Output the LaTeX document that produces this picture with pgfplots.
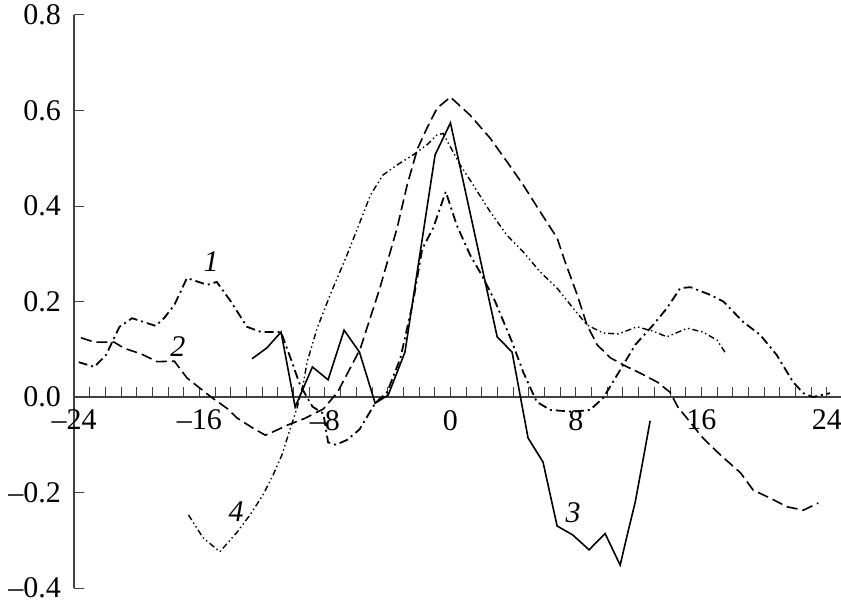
\documentclass[border=0pt]{standalone}
\usepackage{fontspec}
\setmainfont{Liberation Serif}
\usepackage{pgfplots}
\pgfplotsset{compat=1.18}
\begin{document}
\begin{tikzpicture}
\begin{axis}[
  at={(0,0)}, anchor=south west,
  scale only axis, width=383.5pt, height=286.5pt,
  xmin=-24, xmax=24.9, ymin=-0.4, ymax=0.8,
  axis x line=middle, axis y line=left,
  axis line style={-, black!75, line width=0.6pt},
  hide obscured x ticks=false, hide obscured y ticks=false,
  xtick={-24,-16,-8,0,8,16,24},
  xticklabels={\textendash24,\textendash16,\textendash8,0,8,16,24},
  minor x tick num=7,
  ytick={-0.4,-0.2,0,0.2,0.4,0.6,0.8},
  yticklabels={\textendash0.4,\textendash0.2,0.0,0.2,0.4,0.6,0.8},
  tick align=inside,
  major tick length=5pt, minor tick length=5pt,
  tick style={black!75, line width=0.5pt},
  every tick label/.append style={font=\fontsize{15}{17}\selectfont},
  xticklabel style={anchor=north, yshift=-3pt},
  yticklabel style={anchor=east, xshift=-3pt},
  clip=false,
]
\coordinate (SW) at (axis cs:-24,-0.4);
\coordinate (NE) at (axis cs:24.9,0.8);
% curve 1: dash-dot
\addplot[black, line width=0.9pt, dash pattern=on 4.5pt off 2pt on 1pt off 2pt] coordinates {
(-23.7,0.073) (-22.7,0.063) (-21.96,0.088) (-21.1,0.147) (-20.3,0.165) (-18.8,0.149)
(-18.26,0.165) (-17.6,0.193) (-16.8,0.249) (-15.5,0.235) (-14.9,0.241) (-14.0,0.2)
(-12.97,0.147) (-12.07,0.136) (-10.8,0.136) (-10.2,0.082) (-9.59,0.025) (-8.8,-0.02)
(-8.1,-0.035) (-7.8,-0.095) (-7.3,-0.1) (-6.6,-0.09) (-5.8,-0.068) (-4.8,-0.013)
(-4.04,0.01) (-3.2,0.08) (-2.38,0.2) (-1.8,0.31) (-1.1,0.354) (-0.3,0.43) (0.4,0.36)
(1.26,0.297) (2.0,0.255) (2.85,0.2) (3.93,0.115) (4.64,0.052) (5.5,-0.01) (6.36,-0.027)
(7.82,-0.031) (8.9,-0.027) (9.74,-0.002) (10.7,0.05) (11.8,0.11) (12.9,0.15) (13.8,0.186)
(14.65,0.228) (15.3,0.23) (16.56,0.214) (17.4,0.2) (18.67,0.157) (19.75,0.13) (20.8,0.088)
(21.85,0.031) (22.5,0.008) (23.1,0.0) (24.2,0.008)
};
% curve 2: long dashes
\addplot[black, line width=0.8pt, dash pattern=on 5.5pt off 2.5pt] coordinates {
(-23.55,0.124) (-22.7,0.115) (-21.45,0.115) (-20.8,0.102) (-19.7,0.09) (-18.7,0.074)
(-17.6,0.075) (-16.8,0.04) (-15.26,0.0) (-14.24,-0.024) (-13.6,-0.044) (-12.6,-0.065)
(-11.8,-0.08) (-11.05,-0.069) (-10.4,-0.059) (-9.3,-0.045) (-8.1,-0.025) (-7.2,0.01)
(-5.76,0.1) (-4.5,0.228) (-3.4,0.354) (-2.76,0.444) (-2.1,0.52) (-1.5,0.563) (-0.85,0.605)
(0.0,0.628) (1.26,0.59) (2.53,0.542) (3.6,0.493) (4.64,0.444) (5.72,0.388) (6.8,0.333)
(7.31,0.283) (8.08,0.214) (8.7,0.151) (9.36,0.109) (10.2,0.082) (11.27,0.063) (12.1,0.05)
(13.2,0.031) (14.0,0.01) (14.5,-0.021) (16.1,-0.086) (17.2,-0.121) (18.5,-0.159)
(19.3,-0.195) (20.4,-0.212) (21.47,-0.23) (22.5,-0.237) (23.45,-0.222)
};
% curve 3: solid
\addplot[black, line width=0.8pt] coordinates {
(-12.65,0.08) (-11.7,0.103) (-10.8,0.136) (-9.9,-0.021) (-8.8,0.063) (-7.8,0.036)
(-6.78,0.14) (-5.8,0.094) (-4.8,-0.013) (-3.97,0.004) (-2.9,0.094) (-0.98,0.507)
(0.0,0.574) (2.98,0.126) (3.93,0.094) (4.95,-0.086) (5.9,-0.136) (6.8,-0.27) (7.8,-0.289)
(8.84,-0.32) (9.86,-0.286) (10.82,-0.352) (11.27,-0.289) (11.78,-0.22) (12.3,-0.128)
(12.73,-0.05)
};
% curve 4: dash-dot-dot
\addplot[black, line width=0.7pt, dash pattern=on 3pt off 1.5pt on 0.7pt off 1.5pt on 0.7pt off 1.5pt] coordinates {
(-16.7,-0.247) (-15.77,-0.295) (-14.7,-0.324) (-13.6,-0.283) (-12.78,-0.247) (-11.95,-0.205)
(-11.3,-0.163) (-10.74,-0.121) (-10.2,-0.065) (-9.78,-0.023) (-9.4,0.025) (-9.14,0.073)
(-8.5,0.144) (-7.67,0.214) (-6.6,0.297) (-5.76,0.367) (-5.1,0.423) (-4.3,0.465) (-3.4,0.486)
(-2.38,0.507) (-1.5,0.528) (-0.85,0.549) (-0.47,0.552) (0.62,0.486) (1.45,0.444) (2.53,0.388)
(3.6,0.339) (4.64,0.304) (5.72,0.262) (6.8,0.228) (7.82,0.186) (8.7,0.151) (9.74,0.134)
(10.7,0.132) (11.9,0.147) (12.9,0.138) (13.8,0.126) (15.1,0.144) (16.1,0.136) (17.0,0.119)
(17.5,0.094)
};
\node[font=\fontsize{15}{17}\selectfont\itshape] at (axis cs:-15.26,0.283) {1};
\node[font=\fontsize{15}{17}\selectfont\itshape] at (axis cs:-17.37,0.105) {2};
\node[font=\fontsize{15}{17}\selectfont\itshape] at (axis cs:7.82,-0.243) {3};
\node[font=\fontsize{15}{17}\selectfont\itshape] at (axis cs:-13.67,-0.241) {4};
\end{axis}
\pgfresetboundingbox
\path ([xshift=-37pt,yshift=-7.5pt]SW) rectangle ([yshift=7.5pt]NE);
\end{tikzpicture}
\end{document}
